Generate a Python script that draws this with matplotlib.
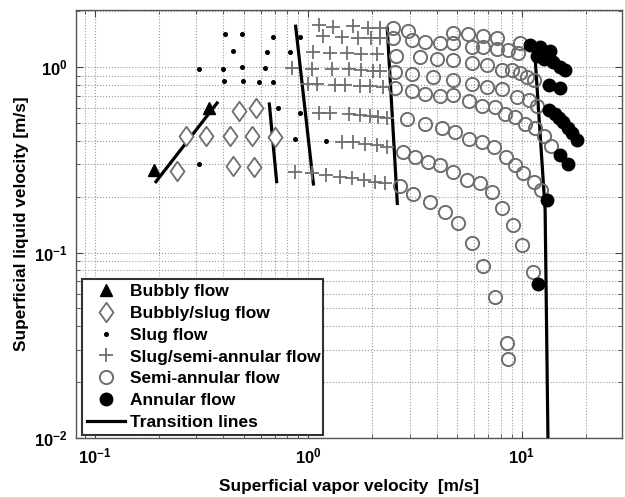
import matplotlib
matplotlib.use("Agg")
import matplotlib.pyplot as plt
from matplotlib.lines import Line2D
from matplotlib.path import Path
from matplotlib.ticker import LogLocator, NullFormatter, FixedLocator, FixedFormatter

plt.rcParams['font.family'] = ['Liberation Sans', 'DejaVu Sans']
plt.rcParams['font.weight'] = 'bold'
plt.rcParams['mathtext.fontset'] = 'custom'
plt.rcParams['mathtext.rm'] = 'Liberation Sans:bold'
plt.rcParams['mathtext.bf'] = 'Liberation Sans:bold'

# ---------------- data (vapor velocity, liquid velocity) in m/s ----------------
bubbly_v = [0.19, 0.344]
bubbly_u = [0.279, 0.601]

bslug_v = [0.243, 0.268, 0.333, 0.431, 0.545, 0.70, 0.477, 0.571, 0.444, 0.558]
bslug_u = [0.276, 0.425, 0.425, 0.425, 0.425, 0.42, 0.582, 0.599, 0.294, 0.29]

slug_v = [0.408, 0.489, 0.688, 0.92, 0.447, 0.641, 0.824, 0.31, 0.398, 0.492, 0.629,
          0.404, 0.494, 0.589, 0.688, 0.726, 0.918, 0.869, 1.22, 0.31]
slug_u = [1.50, 1.50, 1.456, 1.46, 1.22, 1.20, 1.21, 0.976, 0.98, 1.0, 0.99,
          0.843, 0.843, 0.834, 0.834, 0.599, 0.563, 0.408, 0.401, 0.30]

ssa_v = [1.12, 1.31, 1.63, 1.90, 2.17,
         1.18, 1.44, 1.72, 1.97, 2.17,
         1.05, 1.27, 1.52, 1.78, 2.10,
         0.839, 1.04, 1.29, 1.55, 1.78, 2.02, 2.17,
         1.0, 1.10, 1.34, 1.49, 1.75, 1.95, 2.25,
         1.12, 1.27, 1.55, 1.75, 1.95, 2.13, 2.34,
         1.44, 1.63, 1.85, 2.10, 2.34,
         0.869, 1.04, 1.22, 1.41, 1.60, 1.82, 2.06, 2.29]
ssa_u = [1.68, 1.64, 1.66, 1.62, 1.62,
         1.47, 1.46, 1.44, 1.44, 1.43,
         1.20, 1.19, 1.19, 1.18, 1.17,
         0.984, 0.98, 0.975, 0.97, 0.96, 0.955, 0.95,
         0.81, 0.81, 0.80, 0.80, 0.795, 0.79, 0.785,
         0.567, 0.565, 0.555, 0.55, 0.545, 0.537, 0.53,
         0.396, 0.392, 0.385, 0.378, 0.372,
         0.273, 0.267, 0.262, 0.256, 0.251, 0.246, 0.241, 0.236]

semi_v = [2.51, 2.95, 4.80, 5.63, 6.62, 7.65, 9.84,
          2.51, 3.06, 3.53, 4.15, 4.80, 5.84, 6.62, 7.65, 8.67, 9.66,
          2.58, 3.35, 4.01, 4.80, 5.84, 6.87, 8.08, 8.99, 9.84, 10.6, 11.4,
          2.56, 3.06, 3.86, 4.80, 5.84, 6.87, 8.08, 9.50, 10.8, 11.8,
          2.56, 3.06, 3.53, 4.17, 4.80, 5.69, 6.51, 7.51, 8.37, 9.33, 10.4, 11.6, 12.7, 13.8,
          2.90, 3.53, 4.23, 4.88, 5.69, 6.51, 7.46, 8.42, 9.33, 10.2, 11.4, 12.4,
          2.79, 3.17, 3.66, 4.15, 4.80, 5.54, 6.40, 7.25, 8.08, 9.09, 10.1, 11.3,
          2.70, 3.11, 3.73, 4.38, 5.06, 5.84, 6.62, 7.51, 8.53, 8.61]
semi_u = [1.62, 1.57, 1.52, 1.50, 1.47, 1.43, 1.35,
          1.43, 1.40, 1.37, 1.35, 1.34, 1.29, 1.29, 1.25, 1.23, 1.19,
          1.15, 1.13, 1.11, 1.09, 1.05, 1.025, 0.963, 0.963, 0.925, 0.887, 0.851,
          0.943, 0.917, 0.883, 0.851, 0.81, 0.78, 0.761, 0.686, 0.664, 0.616,
          0.768, 0.747, 0.715, 0.696, 0.706, 0.66, 0.62, 0.608, 0.558, 0.538, 0.49, 0.472, 0.425, 0.375,
          0.524, 0.495, 0.47, 0.448, 0.407, 0.396, 0.372, 0.328, 0.296, 0.267, 0.241, 0.217,
          0.349, 0.328, 0.309, 0.296, 0.273, 0.246, 0.236, 0.213, 0.173, 0.141, 0.110, 0.0788,
          0.228, 0.207, 0.187, 0.166, 0.144, 0.113, 0.0846, 0.0575, 0.0325, 0.0267]

ann_v = [10.96, 12.2, 13.6,
         11.8, 12.7, 14.1, 15.1, 16.0,
         13.4, 15.1,
         13.5, 14.3, 15.0, 15.7, 16.5, 17.2, 18.2,
         15.1, 16.6,
         13.1,
         11.9]
ann_u = [1.31, 1.28, 1.22,
         1.14, 1.10, 1.07, 1.00, 0.963,
         0.805, 0.77,
         0.585, 0.555, 0.53, 0.505, 0.47, 0.44, 0.402,
         0.336, 0.300,
         0.193,
         0.0674]

trans_lines = [
    ([0.194, 0.375], [0.241, 0.64]),
    ([0.659, 0.713], [0.632, 0.241]),
    ([0.875, 1.06], [1.66, 0.234]),
    ([2.35, 2.62], [1.62, 0.184]),
    ([11.6, 12.9, 13.3], [1.09, 0.17, 0.01]),
]

labels = ["Bubbly flow", "Bubbly/slug flow", "Slug flow", "Slug/semi-annular flow",
          "Semi-annular flow", "Annular flow", "Transition lines"]

xticks = [0.1, 1, 10]
xtick_labels = [r'$\mathbf{10^{-1}}$', r'$\mathbf{10^{0}}$', r'$\mathbf{10^{1}}$']
yticks = [0.01, 0.1, 1]
ytick_labels = [r'$\mathbf{10^{-2}}$', r'$\mathbf{10^{-1}}$', r'$\mathbf{10^{0}}$']

# ---------------- figure ----------------
fig = plt.figure(figsize=(6.25, 4.97), dpi=100)
ax = fig.add_axes([76/625, 1-438/497, (622-76)/625, (438-10)/497])
ax.set_xscale('log')
ax.set_yscale('log')
ax.set_xlim(0.0819, 29.56)
ax.set_ylim(0.01, 2.03)

grey = '#6e6e6e'
diamond = Path([(0, 1), (0.72, 0), (0, -1), (-0.72, 0), (0, 1)],
               [Path.MOVETO, Path.LINETO, Path.LINETO, Path.LINETO, Path.CLOSEPOLY])

ax.grid(True, which='both', linestyle=':', color='#9a9a9a', linewidth=0.8)
ax.set_axisbelow(True)

for xs, ys in trans_lines:
    ax.plot(xs, ys, '-', color='black', lw=2.3, zorder=3)

ax.plot(bubbly_v, bubbly_u, '^', color='black', ms=9, ls='none', zorder=4)
ax.plot(bslug_v, bslug_u, marker=diamond, mfc='white', mec=grey, mew=1.3, ms=14, ls='none', zorder=4)
ax.plot(slug_v, slug_u, 'o', color='black', ms=2.6, ls='none', zorder=4)
ax.plot(ssa_v, ssa_u, '+', color=grey, mew=1.3, ms=10, ls='none', zorder=4)
ax.plot(semi_v, semi_u, 'o', mfc='none', mec=grey, mew=1.4, ms=9.5, ls='none', zorder=4)
ax.plot(ann_v, ann_u, 'o', color='black', ms=9, ls='none', zorder=5)

ax.xaxis.set_major_locator(FixedLocator(xticks))
ax.xaxis.set_major_formatter(FixedFormatter(xtick_labels))
ax.yaxis.set_major_locator(FixedLocator(yticks))
ax.yaxis.set_major_formatter(FixedFormatter(ytick_labels))
ax.xaxis.set_minor_locator(LogLocator(base=10, subs=range(2, 10)))
ax.yaxis.set_minor_locator(LogLocator(base=10, subs=range(2, 10)))
ax.xaxis.set_minor_formatter(NullFormatter())
ax.yaxis.set_minor_formatter(NullFormatter())
ax.tick_params(which='both', direction='in', top=True, right=True, color='#444444')
ax.tick_params(which='major', length=5, labelsize=12, pad=6)
ax.tick_params(which='minor', length=3)
for sp in ax.spines.values():
    sp.set_color('#555555')
    sp.set_linewidth(1.0)

ax.set_xlabel('Superficial vapor velocity  [m/s]', fontsize=12.4, fontweight='bold', labelpad=9)
ax.set_ylabel('Superficial liquid velocity [m/s]', fontsize=12.4, fontweight='bold', labelpad=4)

handles = [
    Line2D([], [], marker='^', color='black', ms=9, ls='none'),
    Line2D([], [], marker=diamond, mfc='white', mec=grey, mew=1.3, ms=14, ls='none'),
    Line2D([], [], marker='o', color='black', ms=2.6, ls='none'),
    Line2D([], [], marker='+', color=grey, mew=1.3, ms=10, ls='none'),
    Line2D([], [], marker='o', mfc='white', mec=grey, mew=1.4, ms=9.5, ls='none'),
    Line2D([], [], marker='o', color='black', ms=9, ls='none'),
    Line2D([], [], color='black', lw=2.3),
]
leg = fig.legend(handles, labels, loc='lower left',
                 bbox_to_anchor=(82/625, 1-435/497, (323-82)/625, (435-278)/497),
                 mode='expand', fancybox=False, framealpha=1, edgecolor='#333333',
                 prop={'family': 'Liberation Sans', 'weight': 'bold', 'size': 12.5},
                 handlelength=2.2, handletextpad=0.25, labelspacing=0.38,
                 borderpad=0.3, borderaxespad=0)
leg.get_frame().set_linewidth(1.5)

fig.savefig('out.png', dpi=100)
